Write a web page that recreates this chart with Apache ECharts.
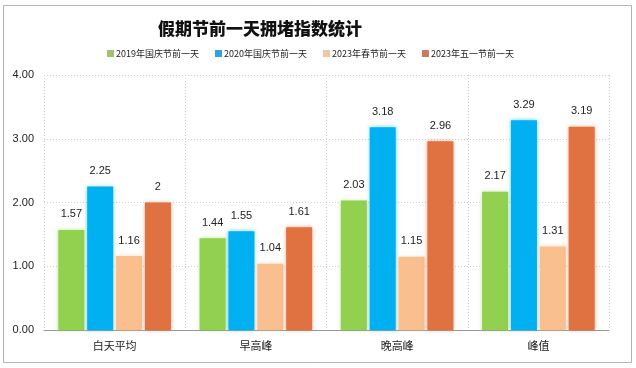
<!DOCTYPE html>
<html><head><meta charset="utf-8">
<script src="https://cdn.jsdelivr.net/npm/echarts@6/dist/echarts.min.js"></script>
<style>html,body{margin:0;padding:0;background:#fff}#c{width:636px;height:368px}</style>
</head><body><div id="c"></div>
<script>
const categories = ['白天平均', '早高峰', '晚高峰', '峰值'];
const seriesNames = ['2019年国庆节前一天', '2020年国庆节前一天', '2023年春节前一天', '2023年五一节前一天'];
const s2019 = [1.57, 1.44, 2.03, 2.17];
const s2020 = [2.25, 1.55, 3.18, 3.29];
const s2023spring = [1.16, 1.04, 1.15, 1.31];
const s2023may = [2, 1.61, 2.96, 3.19];
const yTicks = [0, 1, 2, 3, 4];
const colors = ['#92D050', '#00B0F0', '#F9BF8F', '#E07140'];
const legendColors = ['#9CC46A', '#2EA6D6', '#EDC6A4', '#C97C5A'];
const all = [s2019, s2020, s2023spring, s2023may];

const chart = echarts.init(document.getElementById('c'));
chart.setOption({
  animation: false,
  graphic: [{type:'rect', shape:{x:3.5,y:5.5,width:628,height:357}, style:{fill:'none', stroke:'#b4b4b4', lineWidth:1}, z:-1}],
  title: {text: '假期节前一天拥堵指数统计', left: 255, top: 15, textAlign: 'center',
    textStyle: {fontSize: 17, fontWeight: 900, color: '#111', fontFamily: 'Noto Sans CJK SC'}},
  legend: {
    top: 44, left: 102, itemWidth: 7, itemHeight: 7, itemGap: 16, icon: 'rect',
    data: seriesNames.map((n, i) => ({name: n, itemStyle: {color: legendColors[i]}})),
    textStyle: {fontSize: 9, color: '#222', fontFamily: 'Noto Sans CJK SC', padding:[0,0,0,-3]}
  },
  grid: {left: 44, right: 27, top: 75, bottom: 38},
  xAxis: {
    type: 'category', data: categories,
    axisLine: {lineStyle: {color: '#999'}},
    axisTick: {show: false},
    axisLabel: {fontSize: 11, color: '#222', margin: 10, fontFamily: 'Noto Sans CJK SC'},
    splitLine: {show: true, lineStyle: {color: '#d0d0d0', type: [1, 2]}}
  },
  yAxis: {
    type: 'value', min: yTicks[0], max: yTicks[yTicks.length-1], interval: 1,
    axisLine: {show: false}, axisTick: {show: false},
    axisLabel: {fontSize: 11, color: '#222', margin: 10, formatter: v => v.toFixed(2), align: 'right'},
    splitLine: {lineStyle: {color: '#d0d0d0', type: [1, 2]}}
  },
  series: all.map((d, i) => ({
    name: seriesNames[i], type: 'bar', data: d, barWidth: 26, barGap: '11%',
    itemStyle: {color: colors[i], shadowBlur: 4, shadowColor: colors[i] + '99'},
    label: {show: true, position: 'top', distance: 10, fontSize: 11, color: '#222'}
  }))
});
</script></body></html>
